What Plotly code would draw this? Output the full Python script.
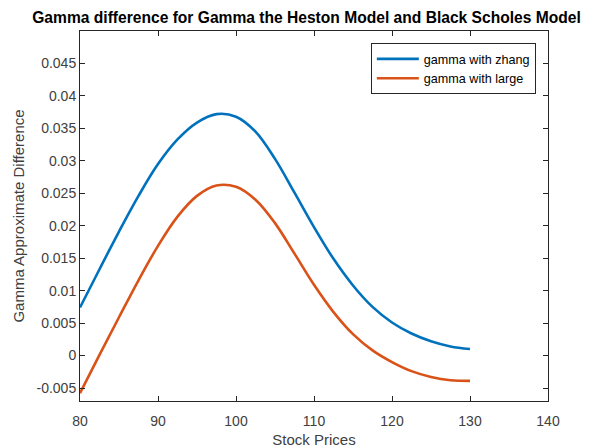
import plotly.graph_objects as go

stock_prices = [80, 82.5, 85, 87.5, 90, 92.5, 95, 97.5, 100, 102.5, 105,
                107.5, 110, 112.5, 115, 117.5, 120, 122.5, 125, 127.5, 130]
gamma_zhang = [0.0074, 0.0133, 0.0191, 0.0246, 0.0295, 0.0333, 0.0359, 0.0372,
               0.0368, 0.0345, 0.0303, 0.0251, 0.0198, 0.0149, 0.0108, 0.0075,
               0.0051, 0.0034, 0.0022, 0.0014, 0.0010]
gamma_large = [-0.0058, 0.0001, 0.0059, 0.0116, 0.0169, 0.0214, 0.0246, 0.0262,
               0.0260, 0.0240, 0.0204, 0.0157, 0.0109, 0.0067, 0.0033, 0.0008,
               -0.0010, -0.0024, -0.0033, -0.0038, -0.0039]

x_ticks = [80, 90, 100, 110, 120, 130, 140]
y_ticks = [-0.005, 0, 0.005, 0.01, 0.015, 0.02, 0.025, 0.03, 0.035, 0.04, 0.045]
y_tick_labels = ["-0.005", "0", "0.005", "0.01", "0.015", "0.02", "0.025",
                 "0.03", "0.035", "0.04", "0.045"]

FONT = "Liberation Sans, Arial, sans-serif"
AX = "#262626"

fig = go.Figure()
fig.add_trace(go.Scatter(x=stock_prices, y=gamma_zhang, mode="lines",
                         name="gamma with zhang",
                         line=dict(color="#0072BD", width=2.6, shape="spline", smoothing=1.0)))
fig.add_trace(go.Scatter(x=stock_prices, y=gamma_large, mode="lines",
                         name="gamma with large",
                         line=dict(color="#D95319", width=2.6, shape="spline", smoothing=1.0)))

axis_common = dict(showgrid=False, zeroline=False, showline=True, linecolor=AX, linewidth=1,
                   mirror="ticks", ticks="inside", ticklen=5, tickcolor=AX, tickwidth=1,
                   automargin=False,
                   tickfont=dict(family=FONT, size=14, color="#404040"))

fig.update_layout(
    width=590, height=448,
    paper_bgcolor="white", plot_bgcolor="white",
    margin=dict(l=80, r=42, t=31, b=47),
    title=dict(text="<b>Gamma difference for Gamma the Heston Model and Black Scholes Model</b>",
               x=0.5195, xanchor="center", y=1 - 18 / 448, yanchor="middle",
               font=dict(family=FONT, size=15.6, color="black")),
    xaxis=dict(range=[80, 140], tickvals=x_ticks, ticklabelstandoff=7, **axis_common,
               title=dict(text="Stock Prices", standoff=8,
                          font=dict(family=FONT, size=15, color="#404040"))),
    yaxis=dict(range=[-0.007, 0.05], tickvals=y_ticks, ticktext=y_tick_labels, **axis_common,
               title=dict(text="Gamma Approximate Difference", standoff=8,
                          font=dict(family=FONT, size=15, color="#404040"))),
    legend=dict(x=0.974, xanchor="right", y=0.967, yanchor="top",
                bordercolor=AX, borderwidth=1, bgcolor="white",
                font=dict(family=FONT, size=12.6, color="black"),
                itemwidth=42, tracegroupgap=0),
    showlegend=True,
)

fig.write_html("out.html")
